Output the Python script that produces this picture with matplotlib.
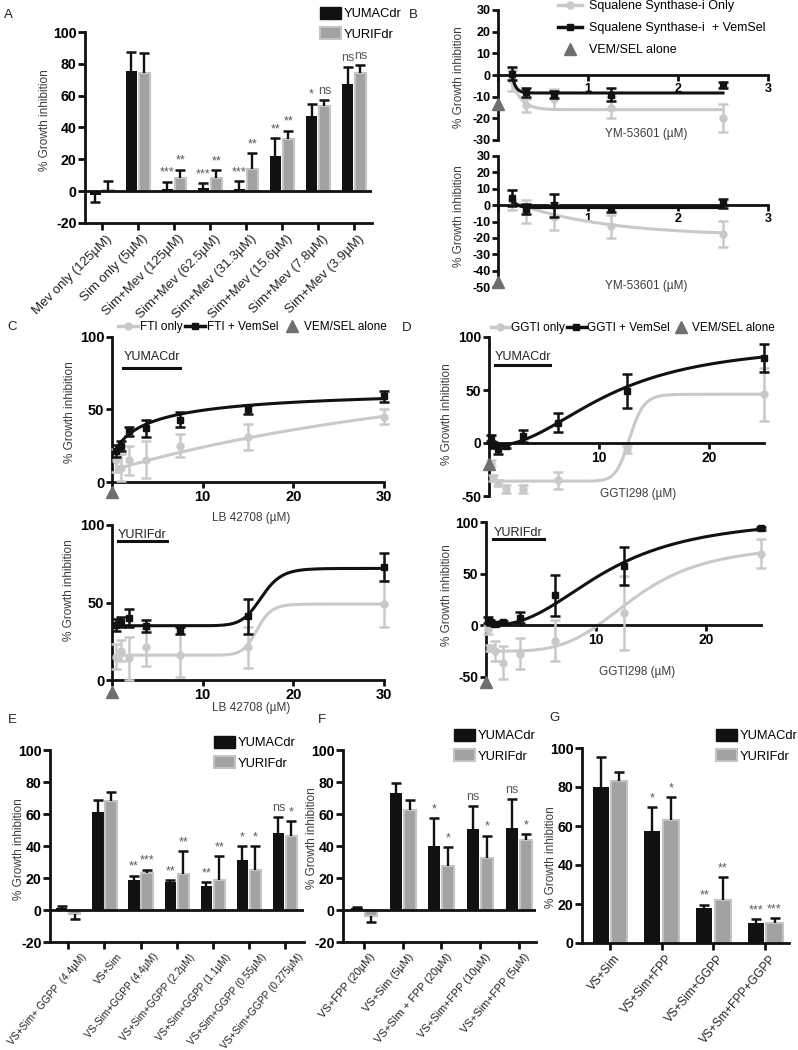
import numpy as np
import matplotlib
matplotlib.use('Agg')
import matplotlib.pyplot as plt
from matplotlib.patches import Patch
from matplotlib.lines import Line2D
from matplotlib.transforms import ScaledTranslation

plt.rcParams['font.family'] = ['Liberation Sans', 'DejaVu Sans']
plt.rcParams['axes.unicode_minus'] = False

# ---------------- data ----------------
A_cats = ['Mev only (125µM)', 'Sim only (5µM)', 'Sim+Mev (125µM)', 'Sim+Mev (62.5µM)',
          'Sim+Mev (31.3µM)', 'Sim+Mev (15.6µM)', 'Sim+Mev (7.8µM)', 'Sim+Mev (3.9µM)']
A_yumac = [-2.5, 75.5, 1.5, 2, 1.5, 22, 47, 67.5]
A_yumac_err = [4.5, 12, 4.5, 3, 5, 11.5, 8, 10.5]
A_yurif = [1, 74, 8, 8.5, 14, 33, 53.5, 74.5]
A_yurif_err = [5.5, 12.5, 5.5, 4.5, 10, 5, 4, 5]
A_sig_yumac = ['', '', '***', '***', '***', '**', '*', 'ns']
A_sig_yurif = ['', '', '**', '**', '**', '**', 'ns', 'ns']

B_dose = [0.156, 0.3125, 0.625, 1.25, 2.5]
B_top_only = [-2.5, -14, -11, -15, -20]
B_top_only_err = [5, 3, 4.5, 5, 6.5]
B_top_vs = [0.5, -8, -9, -9, -4.5]
B_top_vs_err = [3, 2, 1.5, 3, 1.5]
B_top_alone = [-13.5]
B_bot_only = [3, -4, -7, -13, -17.5]
B_bot_only_err = [6, 7, 8, 7, 8]
B_bot_vs = [4.5, -2.5, 0, -2.5, 1]
B_bot_vs_err = [5, 3, 7, 1.5, 3]
B_bot_alone = [-47]
# one-phase decay fits: (y0, plateau, k, x0)
B_top_only_fit = [-2.5, -16, 10, 0.156]
B_top_vs_fit = [0, -8.3, 25, 0.156]
B_bot_only_fit = [2, -19, 1.0, 0.156]
B_bot_vs_fit = [4, -1.5, 20, 0.156]

C_dose = [0.469, 0.938, 1.875, 3.75, 7.5, 15, 30]
C_top_vs = [21.5, 25, 35, 37, 43, 50, 59]
C_top_vs_err = [4, 3.5, 3, 6, 5, 3, 4]
C_top_only = [15, 10, 15, 15.5, 25, 31, 45]
C_top_only_err = [8, 9, 10, 13, 8, 9, 5]
C_top_alone = [-7]
C_bot_vs = [35.5, 37.5, 40, 35, 32, 41, 73]
C_bot_vs_err = [4, 3, 6, 4, 2.5, 11, 9]
C_bot_only = [15, 19, 14, 21, 16, 21, 49]
C_bot_only_err = [8, 7, 14, 12, 14, 13, 15]
C_bot_alone = [-8]
# Hill fits: (bottom, top, EC50, slope)
C_top_vs_fit = [15, 66, 4, 0.8]
C_top_only_fit = [8, 120, 60, 1]
C_bot_vs_fit = [35, 72, 16.5, 15]
C_bot_only_fit = [16, 49, 16, 20]

D_dose = [0.195, 0.39, 0.78, 1.56, 3.125, 6.25, 12.5, 25]
D_top_vs = [5, -2, -6, -3, 6.5, 19, 49, 80]
D_top_vs_err = [3, 3, 4, 2, 6, 9, 16, 13]
D_top_only = [-19, -33, -38, -43.5, -43.5, -35, -6, 46]
D_top_only_err = [3, 3, 3, 4, 4, 8, 3, 25]
D_top_alone = [-20]
D_bot_vs = [5.5, 3, 1.5, 3, 7.5, 29, 57.5, 94]
D_bot_vs_err = [3, 2, 2, 1.5, 5, 20, 18, 1.5]
D_bot_only = [-4, -22, -25, -36, -27.5, -15, 12, 69.5]
D_bot_only_err = [4, 3, 10, 16, 15, 20, 36, 14]
D_bot_alone = [-55]
D_top_vs_fit = [-3, 95, 11, 2.2]
D_top_only_fit = [-36, 46, 12.8, 20]
D_bot_vs_fit = [0, 105, 11, 2.5]
D_bot_only_fit = [-25, 78, 13.5, 4]

E_cats = ['VS+Sim+ GGPP  (4.4µM)', 'VS+Sim', 'VS-Sim+GGPP (4.4µM)', 'VS+Sim+GGPP (2.2µM)',
          'VS+Sim+GGPP (1.1µM)', 'VS+Sim+GGPP (0.55µM)', 'VS+Sim+GGPP (0.275µM)']
E_yumac = [1, 61, 18.5, 17.7, 15, 31.5, 48]
E_yumac_err = [1.5, 8, 3, 0.8, 2.3, 8.5, 10]
E_yurif = [-2.5, 68, 23, 22.5, 19, 25, 46]
E_yurif_err = [3, 6, 2.2, 14.5, 14.5, 15, 9.5]
E_sig_yumac = ['', '', '**', '**', '**', '*', 'ns']
E_sig_yurif = ['', '', '***', '**', '**', '*', '*']

F_cats = ['VS+FPP (20µM)', 'VS+Sim (5µM)', 'VS+SIm + FPP (20µM)', 'VS+Sim+FPP (10µM)', 'VS+Sim+FPP (5µM)']
F_yumac = [1.2, 73, 40, 50.5, 51]
F_yumac_err = [0.4, 6.5, 17.5, 14.5, 18.5]
F_yurif = [-3.5, 62.5, 27.5, 32.5, 43.5]
F_yurif_err = [4, 6.5, 12, 14, 4]
F_sig_yumac = ['', '', '*', 'ns', 'ns']
F_sig_yurif = ['', '', '*', '*', '*']

G_cats = ['VS+Sim', 'VS+Sim+FPP', 'VS+Sim+GGPP', 'VS+Sm+FPP+GGPP']
G_yumac = [80, 57.5, 18, 10.2]
G_yumac_err = [15.5, 12.3, 1.7, 1.9]
G_yurif = [83, 63, 22, 10.3]
G_yurif_err = [4.5, 11.7, 11.6, 2.5]
G_sig_yumac = ['', '*', '**', '***']
G_sig_yurif = ['', '*', '**', '***']

ALONE_DOSE = [0]

# ---------------- style ----------------
BLACK = '#111111'
GRAY_BAR = '#a2a2a2'
GRAY_EDGE = '#c4c4c4'
LIGHT = '#c9c9c9'
TRI = '#6f6f6f'
LABEL_C = '#3c3c3c'
SIG_C = '#5a5a5a'

W, H = 798, 1050
fig = plt.figure(figsize=(W / 100, H / 100), dpi=100)


def px_axes(l, t, r, b):
    return fig.add_axes([l / W, 1 - b / H, (r - l) / W, (b - t) / H])


def hill(x, bottom, top, ec50, h):
    return bottom + (top - bottom) / (1 + (ec50 / x) ** h)


def decay(x, y0, plateau, k, x0):
    return plateau + (y0 - plateau) * np.exp(-k * (x - x0))


def bold_yticks(ax, ticks, fs):
    ax.set_yticks(ticks)
    ax.set_yticklabels([str(t) for t in ticks], fontweight='bold', fontsize=fs)


def bar_panel(ax, cats, v1, e1, v2, e2, s1, s2, ylim, yticks, xlim, zero_line, cat_fs,
              cat_rot=45, cat_shift_px=4):
    x = np.arange(len(cats))
    off, w = 0.18, 0.31
    ax.bar(x - off, v1, w, color=BLACK, zorder=2)
    ax.bar(x + off, v2, w, color=GRAY_BAR, edgecolor=GRAY_EDGE, linewidth=1.5, zorder=2)
    for xs, v, e, sig in ((x - off, v1, e1, s1), (x + off, v2, e2, s2)):
        v = np.asarray(v, float)
        e = np.asarray(e, float)
        end = np.where(v >= 0, v + e, v - e)
        ax.vlines(xs, v, end, color=BLACK, lw=1.7, zorder=3)
        ax.plot(xs, end, ls='none', marker='_', ms=7, mew=1.8, color=BLACK, zorder=3)
        for xi, endi, si in zip(xs, end, sig):
            if si:
                ax.annotate(si, (xi, endi), xytext=(0, 2), textcoords='offset points',
                            ha='center', va='bottom', fontsize=9, color=SIG_C)
    if zero_line:
        ax.axhline(0, color=BLACK, lw=2, zorder=4)
    ax.set_xlim(*xlim)
    ax.set_ylim(*ylim)
    for s in ('top', 'right'):
        ax.spines[s].set_visible(False)
    for s in ('left', 'bottom'):
        ax.spines[s].set_linewidth(2)
        ax.spines[s].set_color(BLACK)
    ax.tick_params(axis='both', length=5, width=2, color=BLACK)
    ax.tick_params(axis='x', pad=2)
    ax.tick_params(axis='y', pad=1)
    bold_yticks(ax, yticks, 10.2)
    ax.set_xticks(x)
    ax.set_xticklabels(cats, rotation=cat_rot, ha='right', rotation_mode='anchor', fontsize=cat_fs,
                       color='#222222')
    shift = ScaledTranslation(cat_shift_px / 100, 0, fig.dpi_scale_trans)
    for lab in ax.xaxis.get_majorticklabels():
        lab.set_transform(lab.get_transform() + shift)


def unclip(container):
    data_line, caps, bars = container.lines
    if data_line is not None:
        data_line.set_clip_on(False)
    for c in caps:
        c.set_clip_on(False)
    for b in bars:
        b.set_clip_on(False)


def curve_panel(ax, dose, vs, vs_err, only, only_err, vs_fit, only_fit, model, alone,
                xlim, ylim, xticks, yticks, tick_fs, lw=2.2, ms=5):
    xs = np.linspace(dose[0], dose[-1], 400)
    ax.plot(xs, model(xs, *only_fit), color=LIGHT, lw=lw, zorder=2, clip_on=False)
    c = ax.errorbar(dose, only, yerr=only_err, fmt='o', color=LIGHT, ms=ms, capsize=3.5,
                    elinewidth=1.8, capthick=1.8, zorder=3)
    unclip(c)
    ax.plot(xs, model(xs, *vs_fit), color=BLACK, lw=lw, zorder=4, clip_on=False)
    c = ax.errorbar(dose, vs, yerr=vs_err, fmt='s', color=BLACK, ms=ms, capsize=3.5,
                    elinewidth=1.8, capthick=1.8, zorder=5)
    unclip(c)
    ax.plot(ALONE_DOSE, alone, ls='none', marker='^', color=TRI, ms=9, clip_on=False, zorder=6)
    ax.set_xlim(*xlim)
    ax.set_ylim(*ylim)
    for s in ('top', 'right'):
        ax.spines[s].set_visible(False)
    ax.spines['bottom'].set_position(('data', 0))
    for s in ('left', 'bottom'):
        ax.spines[s].set_linewidth(2)
        ax.spines[s].set_color(BLACK)
    ax.set_xticks(xticks)
    ax.set_xticklabels([''] + [str(t) for t in xticks[1:]], fontweight='bold', fontsize=tick_fs)
    ax.tick_params(axis='both', length=4, width=2, color=BLACK, pad=1.5)
    bold_yticks(ax, yticks, tick_fs)


def ylabel(x, y, text):
    fig.text(x / W, 1 - y / H, text, rotation=90, ha='center', va='center',
             fontsize=8.5, color=LABEL_C)


def xlabel(x, y, text):
    fig.text(x / W, 1 - y / H, text, ha='center', va='center', fontsize=8.5, color=LABEL_C)


def panel_letter(x, y, s):
    fig.text(x / W, 1 - y / H, s, ha='center', va='center', fontsize=9.5, color='#222222')


def underlined(x0, x1, y_text, y_line, s):
    fig.text((x0 + x1) / 2 / W, 1 - y_text / H, s, ha='center', va='center', fontsize=9,
             color='#222222')
    fig.add_artist(Line2D([x0 / W, x1 / W], [1 - y_line / H, 1 - y_line / H],
                          color=BLACK, lw=2.2))


bar_handles = [Patch(facecolor=BLACK, edgecolor=BLACK),
               Patch(facecolor=GRAY_BAR, edgecolor=GRAY_EDGE, linewidth=1.5)]
bar_labels = ['YUMACdr', 'YURIFdr']


def bar_legend(x, y, fs):
    fig.legend(bar_handles, bar_labels, loc='upper left', bbox_to_anchor=(x / W, 1 - y / H),
               frameon=False, fontsize=fs, handlelength=1.6, handleheight=1.0,
               handletextpad=0.2, labelspacing=0.55, borderpad=0, borderaxespad=0)


# ---------------- Panel A ----------------
axA = px_axes(85, 32, 372, 223)
bar_panel(axA, A_cats, A_yumac, A_yumac_err, A_yurif, A_yurif_err, A_sig_yumac, A_sig_yurif,
          (-20, 100), [-20, 0, 20, 40, 60, 80, 100], (-0.47, 7.5), True, 9.5)
ylabel(45, 120, '% Growth inhibition')
panel_letter(8, 15, 'A')
bar_legend(320, 7, 9.3)

# ---------------- Panel B ----------------
axB1 = px_axes(498, 10, 768, 140)
curve_panel(axB1, B_dose, B_top_vs, B_top_vs_err, B_top_only, B_top_only_err,
            B_top_vs_fit, B_top_only_fit, decay, B_top_alone, (0, 3), (-30, 30),
            [0, 1, 2, 3], [-30, -20, -10, 0, 10, 20, 30], 9)
axB2 = px_axes(498, 156, 768, 287)
curve_panel(axB2, B_dose, B_bot_vs, B_bot_vs_err, B_bot_only, B_bot_only_err,
            B_bot_vs_fit, B_bot_only_fit, decay, B_bot_alone, (0, 3), (-50, 30),
            [0, 1, 2, 3], [-50, -40, -30, -20, -10, 0, 10, 20, 30], 9)
xlabel(646, 134, 'YM-53601 (µM)')
xlabel(646, 286, 'YM-53601 (µM)')
ylabel(459, 77, '% Growth inhibition')
ylabel(459, 216, '% Growth inhibition')
panel_letter(413, 15, 'B')
fig.legend([Line2D([], [], color=LIGHT, marker='o', lw=2.5, ms=5),
            Line2D([], [], color=BLACK, marker='s', lw=2.5, ms=5),
            Line2D([], [], color=TRI, marker='^', ls='none', ms=9)],
           ['Squalene Synthase-i Only', 'Squalene Synthase-i  + VemSel', 'VEM/SEL alone'],
           loc='upper left', bbox_to_anchor=(558 / W, 1 - 0 / H), frameon=False, fontsize=9,
           handlelength=1.9, handletextpad=0.6, labelspacing=0.8, borderpad=0, borderaxespad=0)

# ---------------- Panel C ----------------
axC1 = px_axes(112, 337, 384, 482)
curve_panel(axC1, C_dose, C_top_vs, C_top_vs_err, C_top_only, C_top_only_err,
            C_top_vs_fit, C_top_only_fit, hill, C_top_alone, (0, 30), (0, 100),
            [0, 10, 20, 30], [0, 50, 100], 10.5)
axC2 = px_axes(112, 525, 384, 680)
curve_panel(axC2, C_dose, C_bot_vs, C_bot_vs_err, C_bot_only, C_bot_only_err,
            C_bot_vs_fit, C_bot_only_fit, hill, C_bot_alone, (0, 30), (0, 100),
            [0, 10, 20, 30], [0, 50, 100], 10.5)
xlabel(251, 518, 'LB 42708 (µM)')
xlabel(251, 708, 'LB 42708 (µM)')
ylabel(70, 412, '% Growth inhibition')
ylabel(69, 590, '% Growth inhibition')
underlined(123, 180, 357, 368, 'YUMACdr')
underlined(118, 167, 535, 541, 'YURIFdr')
panel_letter(12, 327, 'C')
fig.legend([Line2D([], [], color=LIGHT, marker='o', lw=2.5, ms=5),
            Line2D([], [], color=BLACK, marker='s', lw=2.5, ms=5),
            Line2D([], [], color=TRI, marker='^', ls='none', ms=9)],
           ['FTI only', 'FTI + VemSel', 'VEM/SEL alone'], ncol=3,
           loc='center left', bbox_to_anchor=(118 / W, 1 - 327 / H), frameon=False, fontsize=8.5,
           handlelength=1.7, handletextpad=0.15, columnspacing=0.25, borderpad=0, borderaxespad=0)

# ---------------- Panel D ----------------
axD1 = px_axes(489, 337, 764, 496)
curve_panel(axD1, D_dose, D_top_vs, D_top_vs_err, D_top_only, D_top_only_err,
            D_top_vs_fit, D_top_only_fit, hill, D_top_alone, (0, 25), (-50, 100),
            [0, 10, 20], [-50, 0, 50, 100], 10)
axD2 = px_axes(486, 522, 761, 677)
curve_panel(axD2, D_dose, D_bot_vs, D_bot_vs_err, D_bot_only, D_bot_only_err,
            D_bot_vs_fit, D_bot_only_fit, hill, D_bot_alone, (0, 25), (-50, 100),
            [0, 10, 20], [-50, 0, 50, 100], 10)
xlabel(638, 494, 'GGTI298 (µM)')
xlabel(637, 672, 'GGTI298 (µM)')
ylabel(447, 414, '% Growth inhibition')
ylabel(447, 595, '% Growth inhibition')
underlined(495, 550, 357, 365, 'YUMACdr')
underlined(493, 544, 533, 539, 'YURIFdr')
panel_letter(407, 328, 'D')
fig.legend([Line2D([], [], color=LIGHT, marker='o', lw=2.5, ms=5),
            Line2D([], [], color=BLACK, marker='s', lw=2.5, ms=5),
            Line2D([], [], color=TRI, marker='^', ls='none', ms=9)],
           ['GGTI only', 'GGTI + VemSel', 'VEM/SEL alone'], ncol=3,
           loc='center left', bbox_to_anchor=(491 / W, 1 - 328 / H), frameon=False, fontsize=8.5,
           handlelength=1.6, handletextpad=0.12, columnspacing=0.15, borderpad=0, borderaxespad=0)

# ---------------- Panel E ----------------
axE = px_axes(50, 750, 304, 942)
bar_panel(axE, E_cats, E_yumac, E_yumac_err, E_yurif, E_yurif_err, E_sig_yumac, E_sig_yurif,
          (-20, 100), [-20, 0, 20, 40, 60, 80, 100], (-0.51, 6.53), True, 7.3,
          cat_rot=50, cat_shift_px=12)
ylabel(19, 849, '% Growth inhibition')
panel_letter(12, 720, 'E')
bar_legend(214, 736, 9.3)

# ---------------- Panel F ----------------
axF = px_axes(343, 750, 536, 942)
bar_panel(axF, F_cats, F_yumac, F_yumac_err, F_yurif, F_yurif_err, F_sig_yumac, F_sig_yurif,
          (-20, 100), [-20, 0, 20, 40, 60, 80, 100], (-0.54, 4.44), True, 8,
          cat_rot=50, cat_shift_px=5)
ylabel(312, 838, '% Growth inhibition')
panel_letter(322, 720, 'F')
bar_legend(454, 729, 9.3)

# ---------------- Panel G ----------------
axG = px_axes(582, 748, 789, 943)
bar_panel(axG, G_cats, G_yumac, G_yumac_err, G_yurif, G_yurif_err, G_sig_yumac, G_sig_yurif,
          (0, 100), [0, 20, 40, 60, 80, 100], (-0.54, 3.46), False, 8.5,
          cat_rot=50, cat_shift_px=4)
ylabel(551, 857, '% Growth inhibition')
panel_letter(554, 718, 'G')
bar_legend(716, 729, 9.3)

fig.savefig('out.png', dpi=100)
